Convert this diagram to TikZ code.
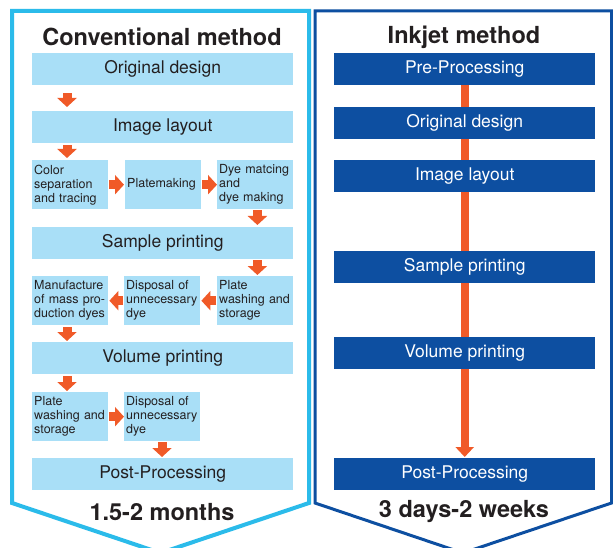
\documentclass[tikz,border=0pt]{standalone}
\usepackage{fontspec}
\setmainfont{TeX Gyre Heros}
\usetikzlibrary{arrows.meta,calc}
\definecolor{lb}{HTML}{A9DFF7}
\definecolor{lbline}{HTML}{2BBBEA}
\definecolor{db}{HTML}{0D4FA1}
\definecolor{org}{HTML}{F05A28}
\definecolor{txt}{HTML}{231F20}
\begin{document}
\begin{tikzpicture}[x=1pt,y=-1pt,
  wide/.style={fill=lb, anchor=north west, minimum width=261pt, minimum height=32pt, inner sep=0pt, text=txt, font=\fontsize{17.5}{20}\selectfont},
  dwide/.style={fill=db, anchor=north west, minimum width=261pt, minimum height=32pt, inner sep=0pt, text=white, font=\fontsize{17.5}{20}\selectfont},
  sbox/.style={fill=lb, anchor=north west, minimum width=76pt, minimum height=49pt, text width=72pt, inner xsep=2pt, inner ysep=0pt, align=left, text=txt, font=\fontsize{12.5}{14}\selectfont},
  title/.style={text=txt, font=\fontsize{23.5}{26}\selectfont\bfseries},
  barr/.style={draw=org, line width=9pt, -{Triangle[width=19pt,length=9pt]}},
  vline/.style={draw=org, line width=8pt}
]
\useasboundingbox (0,0) rectangle (613,548);
\fill[white] (0,0) rectangle (613,548);
% panels
\draw[lbline, line width=4pt, line join=miter] (12,11) -- (309,11) -- (309,503) -- (160.5,553) -- (12,503) -- cycle;
\draw[db, line width=3pt, line join=miter] (315,11) -- (611.5,11) -- (611.5,503) -- (463,553) -- (315,503) -- cycle;
% titles
\node[title] (t1) at (162,37) {Conventional method};
\node[title] (t2) at (464,37) {Inkjet method};
\node[title] (d1) at (162,512) {1.5-2 months};
\node[title] (d2) at (464,512) {3 days-2 weeks};
% left column
\node[wide] (od) at (32,53) {Original design};
\node[wide] (il) at (32,111) {Image layout};
\node[sbox] (cs) at (32,160) {Color\\separation\\and tracing};
\node[sbox] (pm) at (125,160) {Platemaking};
\node[sbox] (dm) at (217,160) {Dye matcing\\and\\dye making};
\node[wide] (sp) at (32,227) {Sample printing};
\node[sbox] (mm) at (32,276) {Manufacture\\of mass pro-\\duction dyes};
\node[sbox] (du) at (124,276) {Disposal of\\unnecessary\\dye};
\node[sbox] (pw) at (217,276) {Plate\\washing and\\storage};
\node[wide] (vp) at (32,342) {Volume printing};
\node[sbox] (pw2) at (32,392) {Plate\\washing and\\storage};
\node[sbox] (du2) at (124,392) {Disposal of\\unnecessary\\dye};
\node[wide] (pp) at (32,458) {Post-Processing};
% left arrows
\draw[barr] ($(od.south west)+(35,8)$) -- ($(il.north west)+(35,-4)$);
\draw[barr] ($(il.south west)+(35,2)$) -- ($(cs.north west)+(35,-2)$);
\draw[barr] ($(cs.east)+(1,0)$) -- ($(pm.west)+(-1,0)$);
\draw[barr] ($(pm.east)+(1,0)$) -- ($(dm.west)+(0,0)$);
\draw[barr] ($(dm.south east)+(-36,1)$) -- ($(sp.north east)+(-36,-2)$);
\draw[barr] ($(sp.south east)+(-36,1)$) -- ($(pw.north east)+(-36,-1)$);
\draw[barr] ($(pw.west)+(-1,0)$) -- ($(du.east)+(1,0)$);
\draw[barr] ($(du.west)+(-1,0)$) -- ($(mm.east)+(1,0)$);
\draw[barr] ($(mm.south west)+(35,2)$) -- ($(vp.north west)+(35,-1)$);
\draw[barr] ($(vp.south west)+(35,2)$) -- ($(pw2.north west)+(35,-1)$);
\draw[barr] ($(pw2.east)+(1,0)$) -- ($(du2.west)+(0,0)$);
\draw[barr] ($(du2.south west)+(38,1)$) -- ($(pp.north west)+(130,-1)$);
% right column
\node[dwide] (rpre) at (334,53) {Pre-Processing};
\node[dwide] (rod) at (334,107) {Original design};
\node[dwide] (ril) at (334,160) {Image layout};
\node[dwide] (rsp) at (334,251) {Sample printing};
\node[dwide] (rvp) at (334,337) {Volume printing};
\node[dwide] (rpp) at (334,458) {Post-Processing};
\draw[vline] (rpre.south) -- (rod.north);
\draw[vline] (rod.south) -- (ril.north);
\draw[vline] (ril.south) -- (rsp.north);
\draw[vline] (rsp.south) -- (rvp.north);
\draw[draw=org, line width=8pt, -{Triangle[width=18pt,length=10pt]}] (rvp.south) -- ($(rpp.north)+(0,-1)$);
\end{tikzpicture}
\end{document}
